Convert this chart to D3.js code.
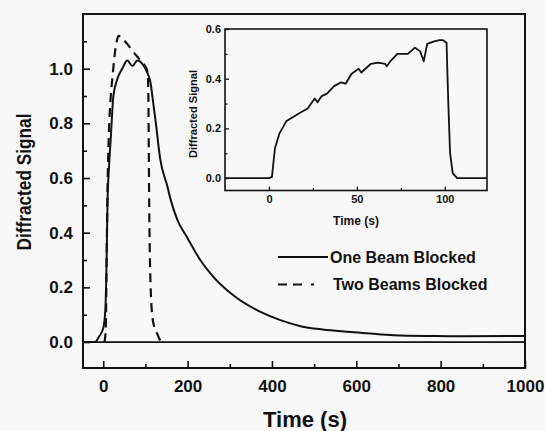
<!DOCTYPE html>
<html lang="en"><head><meta charset="UTF-8">
<title>Diffracted signal</title>
<script src="https://d3js.org/d3.v7.min.js"></script>
<style type="text/css">
  body { margin: 0; background: #f8f8f8; }
  text { font-family: "Liberation Sans", Arial, sans-serif; font-weight: bold; fill: #111; }
</style>
</head>
<body>
<script type="text/javascript">

// main curves (time in s, diffracted signal)
var oneT = [-48, -20, -10, 0, 5, 8, 10, 14, 18, 24, 33, 45, 57, 69, 81, 100, 106, 112, 118, 124, 135, 152, 160, 175, 200, 230, 260, 309, 373, 420, 468, 520, 587, 640, 689, 784, 850, 1000];
var oneV = [0, 0, 0.02, 0.05, 0.12, 0.3, 0.5, 0.65, 0.75, 0.9, 0.96, 1.0, 1.03, 1.01, 1.03, 1.0, 0.98, 0.95, 0.88, 0.81, 0.67, 0.57, 0.52, 0.45, 0.38, 0.30, 0.24, 0.17, 0.11, 0.08, 0.058, 0.046, 0.037, 0.03, 0.025, 0.022, 0.021, 0.022];

var twoT = [3, 6, 8, 10, 13, 17, 22, 27, 32, 36, 45, 57, 72, 88, 105, 107, 108, 109, 111, 116, 122, 128, 135];
var twoV = [0, 0.05, 0.3, 0.55, 0.75, 0.88, 0.97, 1.05, 1.1, 1.12, 1.11, 1.09, 1.06, 1.03, 0.99, 0.9, 0.7, 0.5, 0.28, 0.1, 0.05, 0.03, 0.005];

// inset curve
var insT = [-25, 0, 1.7, 3.4, 6, 10, 17, 22, 26, 27.6, 30, 33, 37, 41, 43.6, 47, 51, 52.5, 58, 62, 66, 67, 69, 73, 79, 83, 86, 88, 90, 94, 97, 99, 101, 102, 103, 104.5, 107, 124];
var insV = [0, 0, 0.005, 0.12, 0.18, 0.23, 0.26, 0.28, 0.32, 0.305, 0.33, 0.34, 0.37, 0.385, 0.38, 0.42, 0.44, 0.425, 0.46, 0.465, 0.46, 0.45, 0.47, 0.50, 0.50, 0.525, 0.51, 0.47, 0.54, 0.55, 0.555, 0.555, 0.545, 0.3, 0.1, 0.02, 0, 0];

var xTicks = [0, 200, 400, 600, 800, 1000];
var xMinor = [100, 300, 500, 700, 900];
var yTicks = [0, 0.2, 0.4, 0.6, 0.8, 1.0];
var yMinor = [0.1, 0.3, 0.5, 0.7, 0.9, 1.1];
var inXTicks = [0, 50, 100];
var inXMinor = [25, 75];
var inYTicks = [0, 0.2, 0.4, 0.6];
var inYMinor = [0.1, 0.3, 0.5];
var legendLabels = ["One Beam Blocked", "Two Beams Blocked"];

var w = 545, h = 431;
var svg = d3.select("body").append("svg").attr("width", w).attr("height", h);

var xScale = d3.scaleLinear().domain([-48, 1000]).range([83, 525]);
var yScale = d3.scaleLinear().domain([-0.095, 1.2]).range([368, 14]);

function pairs(t, v) { return t.map(function(d, i) { return [d, v[i]]; }); }

var line = d3.line()
    .x(function(d) { return xScale(d[0]); })
    .y(function(d) { return yScale(d[1]); })
    .curve(d3.curveMonotoneX);

// axes, ticks inward
var gx = svg.append("g").attr("transform", "translate(0,368)")
    .call(d3.axisBottom(xScale).tickValues(xTicks).tickSize(-7).tickPadding(12).tickFormat(d3.format("d")));
var gxm = svg.append("g").attr("transform", "translate(0,368)")
    .call(d3.axisBottom(xScale).tickValues(xMinor).tickSize(-4).tickFormat(""));
var gy = svg.append("g").attr("transform", "translate(83,0)")
    .call(d3.axisLeft(yScale).tickValues(yTicks).tickSize(-7).tickPadding(10).tickFormat(d3.format(".1f")));
var gym = svg.append("g").attr("transform", "translate(83,0)")
    .call(d3.axisLeft(yScale).tickValues(yMinor).tickSize(-4).tickFormat(""));

[gx, gxm, gy, gym].forEach(function(g) {
  g.select(".domain").remove();
  g.selectAll("line").attr("stroke", "#111").attr("stroke-width", 1.6);
  g.selectAll("text").attr("font-size", "17px").attr("font-family", null).attr("fill", "#111");
});

// zero line
svg.append("line")
   .attr("x1", 83).attr("x2", 525)
   .attr("y1", yScale(0)).attr("y2", yScale(0))
   .attr("stroke", "#111").attr("stroke-width", 1.8);

svg.append("path")
   .datum(pairs(oneT, oneV))
   .attr("d", line)
   .attr("fill", "none").attr("stroke", "#111").attr("stroke-width", 2);

svg.append("path")
   .datum(pairs(twoT, twoV))
   .attr("d", line)
   .attr("fill", "none").attr("stroke", "#111").attr("stroke-width", 2.2)
   .attr("stroke-dasharray", "9,6");

// frame
svg.append("rect")
   .attr("x", 83).attr("y", 14).attr("width", 442).attr("height", 354)
   .attr("fill", "none").attr("stroke", "#111").attr("stroke-width", 2);

// axis titles
svg.append("text")
   .attr("x", 305).attr("y", 427)
   .attr("text-anchor", "middle")
   .attr("font-size", "22px")
   .text("Time (s)");

svg.append("text")
   .attr("transform", "translate(31,182) rotate(-90)")
   .attr("text-anchor", "middle")
   .attr("font-size", "21px")
   .attr("textLength", 137).attr("lengthAdjust", "spacingAndGlyphs")
   .text("Diffracted Signal");

// legend
var legend = svg.selectAll(".legend")
   .data(legendLabels)
   .enter().append("g")
   .attr("class", "legend")
   .attr("transform", function(d, i) { return "translate(278," + (257 + i * 27.5) + ")"; });

legend.append("line")
   .attr("x1", 0).attr("x2", function(d, i) { return i === 0 ? 50 : 37; })
   .attr("y1", 0).attr("y2", 0)
   .attr("stroke", "#111").attr("stroke-width", 2.2)
   .attr("stroke-dasharray", function(d, i) { return i === 0 ? null : "9,6,9,9,3,100"; });

legend.append("text")
   .attr("x", function(d, i) { return i === 0 ? 52 : 55; })
   .attr("y", 5.5)
   .attr("font-size", "16px")
   .text(function(d) { return d; });

// inset
var ix = d3.scaleLinear().domain([-25, 124]).range([225, 487]);
var iy = d3.scaleLinear().domain([-0.05, 0.6]).range([190.5, 29]);

var inset = svg.append("g");
inset.append("rect")
   .attr("x", 225).attr("y", 29).attr("width", 262).attr("height", 161.5)
   .attr("fill", "#f8f8f8");

var iline = d3.line()
    .x(function(d) { return ix(d[0]); })
    .y(function(d) { return iy(d[1]); });

var igx = inset.append("g").attr("transform", "translate(0,190.5)")
    .call(d3.axisBottom(ix).tickValues(inXTicks).tickSize(-4).tickPadding(5).tickFormat(d3.format("d")));
var igxm = inset.append("g").attr("transform", "translate(0,190.5)")
    .call(d3.axisBottom(ix).tickValues(inXMinor).tickSize(-2.5).tickFormat(""));
var igy = inset.append("g").attr("transform", "translate(225,0)")
    .call(d3.axisLeft(iy).tickValues(inYTicks).tickSize(-4).tickPadding(4).tickFormat(d3.format(".1f")));
var igym = inset.append("g").attr("transform", "translate(225,0)")
    .call(d3.axisLeft(iy).tickValues(inYMinor).tickSize(-2.5).tickFormat(""));

[igx, igxm, igy, igym].forEach(function(g) {
  g.select(".domain").remove();
  g.selectAll("line").attr("stroke", "#111").attr("stroke-width", 1.3);
  g.selectAll("text").attr("font-size", "11px").attr("font-family", null).attr("fill", "#111");
});

inset.append("path")
   .datum(pairs(insT, insV))
   .attr("d", iline)
   .attr("fill", "none").attr("stroke", "#111").attr("stroke-width", 1.8)
   .attr("stroke-linejoin", "round");

inset.append("rect")
   .attr("x", 225).attr("y", 29).attr("width", 262).attr("height", 161.5)
   .attr("fill", "none").attr("stroke", "#111").attr("stroke-width", 1.6);

inset.append("text")
   .attr("x", 356).attr("y", 225)
   .attr("text-anchor", "middle")
   .attr("font-size", "12px")
   .text("Time (s)");

inset.append("text")
   .attr("transform", "translate(197,114) rotate(-90)")
   .attr("text-anchor", "middle")
   .attr("font-size", "11px")
   .attr("textLength", 88).attr("lengthAdjust", "spacingAndGlyphs")
   .text("Diffracted Signal");

</script>
</body>
</html>
